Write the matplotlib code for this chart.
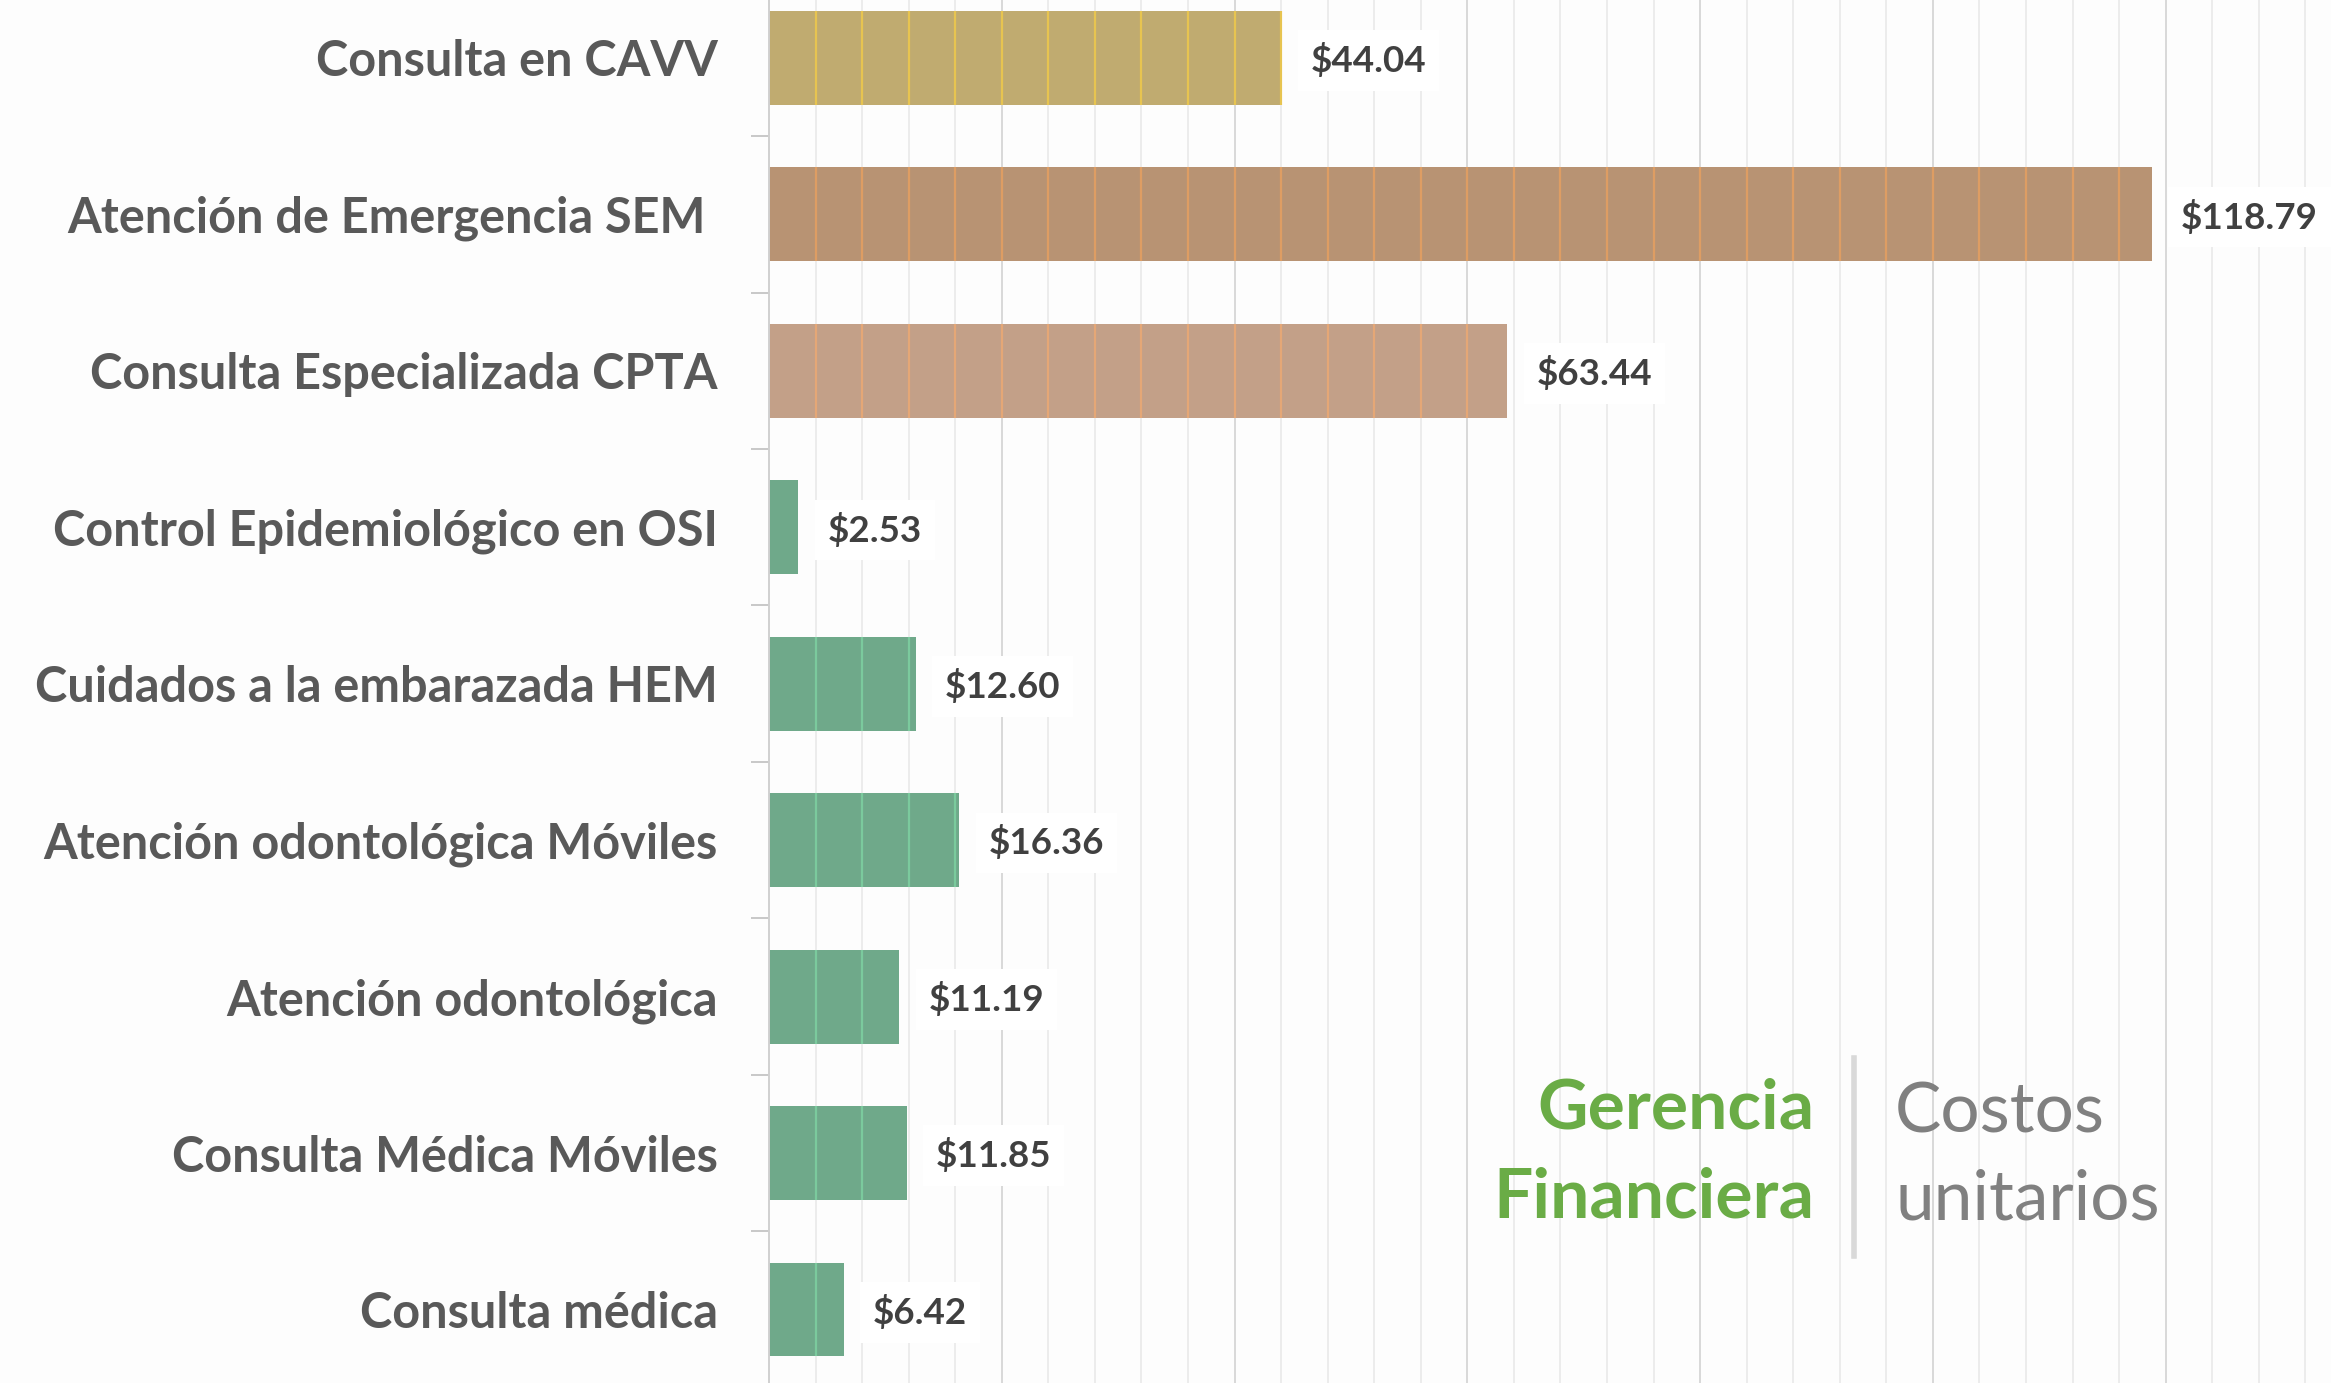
import numpy as np
import matplotlib.pyplot as plt

plt.rcParams['font.family'] = ['Lato', 'DejaVu Sans']

# datos: costos unitarios por servicio
servicios = ['Consulta en CAVV', 'Atención de Emergencia SEM ', 'Consulta Especializada CPTA',
             'Control Epidemiológico en OSI', 'Cuidados a la embarazada HEM',
             'Atención odontológica Móviles', 'Atención odontológica',
             'Consulta Médica Móviles', 'Consulta médica']
costos = [44.04, 118.79, 63.44, 2.53, 12.60, 16.36, 11.19, 11.85, 6.42]
colores = ['#c0ab70', '#b89373', '#c3a088', '#6fa98a', '#6fa98a', '#6fa98a',
           '#6fa98a', '#6fa98a', '#6fa98a']
lineas = ['#f2cb48', '#e8a060', '#eeaa72', '#7fd3a2', '#7fd3a2', '#7fd3a2',
          '#7fd3a2', '#7fd3a2', '#7fd3a2']

fig = plt.figure(figsize=(23.31, 13.83), dpi=100)
fig.patch.set_facecolor('#fdfdfd')
ax = fig.add_axes([769 / 2331, 0, 1 - 769 / 2331, 1])
ax.set_facecolor('#fdfdfd')

y = np.arange(len(servicios))
alto = 0.6
ax.barh(y, costos, height=alto, color=colores, zorder=2)

# lineas de la cuadricula que se ven dentro de las barras
menores = np.arange(4, 136, 4)
for yi, v, c in zip(y, costos, lineas):
    xs = menores[menores < v]
    ax.vlines(xs, yi - alto / 2, yi + alto / 2, color=c, lw=1.6, alpha=0.8, zorder=3)

# cuadricula
for xv in menores:
    ax.axvline(xv, color='#d8d8d8' if xv % 20 == 0 else '#ececec', lw=1.4, zorder=1)

for yi, v in zip(y, costos):
    ax.annotate(f'${v:.2f}', (v, yi), xytext=(21, -2), textcoords='offset points',
                va='center', ha='left', fontsize=26.5, fontweight='bold', color='#404040',
                bbox=dict(boxstyle='square,pad=0.35', fc='white', ec='none'), zorder=4)

ax.set_xlim(0, 134.2)
ax.set_ylim(8.47, -0.37)
ax.set_yticks(y)
ax.set_yticklabels(servicios, fontsize=35, fontweight='bold', color='#595959')
ax.set_yticks(np.arange(0.5, 8.5, 1), minor=True)
ax.tick_params(axis='y', which='major', length=0, pad=37)
ax.tick_params(axis='y', which='minor', length=13, width=1.2, color='#bfbfbf')
ax.set_xticks([])
for s in ['top', 'right', 'bottom']:
    ax.spines[s].set_visible(False)
ax.spines['left'].set_color('#d0d0d0')
ax.spines['left'].set_linewidth(1.4)

# titulo tipo logo
fig.text(1814 / 2331, 1 - 1109 / 1383, 'Gerencia', ha='right', va='center',
         fontsize=50, fontweight='bold', color='#6aac46')
fig.text(1814 / 2331, 1 - 1198 / 1383, 'Financiera', ha='right', va='center',
         fontsize=50, fontweight='bold', color='#6aac46')
fig.add_artist(plt.Line2D([1854 / 2331, 1854 / 2331], [1 - 1058 / 1383, 1 - 1256 / 1383],
                          color='#d9d9d9', lw=4))
fig.text(1895 / 2331, 1 - 1113 / 1383, 'Costos', ha='left', va='center',
         fontsize=50, color='#808080')
fig.text(1895 / 2331, 1 - 1200 / 1383, 'unitarios', ha='left', va='center',
         fontsize=50, color='#808080')

plt.savefig('out.png', dpi=100, facecolor=fig.get_facecolor())
